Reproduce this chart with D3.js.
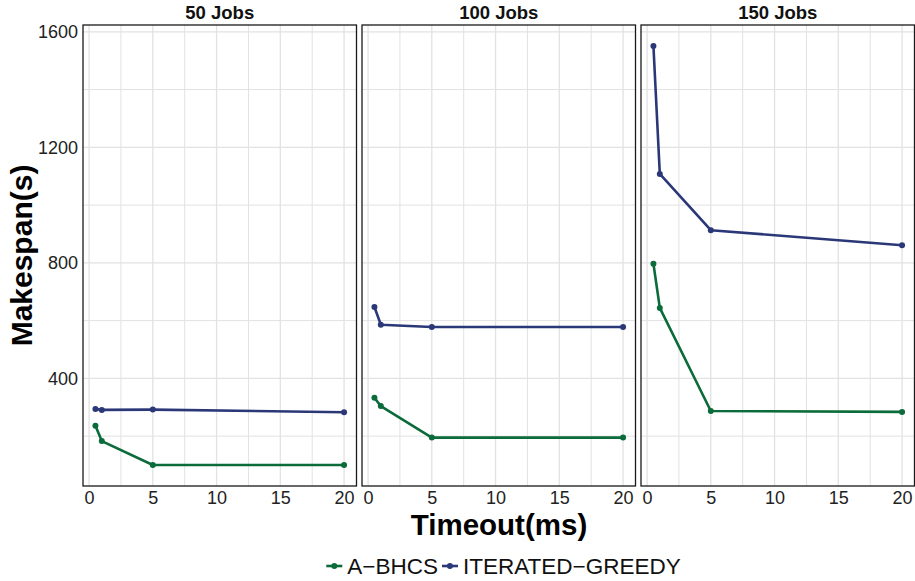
<!DOCTYPE html>
<html>
<head>
<meta charset="utf-8">
<script src="https://cdn.jsdelivr.net/npm/d3@7"></script>
<style>
  html, body { margin: 0; padding: 0; background: #fff; }
  svg { display: block; font-family: "Liberation Sans", Arial, sans-serif; }
</style>
</head>
<body>
<svg id="chart" width="915" height="581"></svg>
<script>
// Timeout settings (ms) shared by every panel
const timeouts = [0.5, 1, 5, 20];
const panelTitles = ["50 Jobs", "100 Jobs", "150 Jobs"];
const seriesNames = ["A\u2212BHCS", "ITERATED\u2212GREEDY"];
const seriesColors = ["#0b6b3a", "#2b3878"];

// Makespan (s) per panel, one array per algorithm
const abhcs50 = [236, 183, 100, 100];
const abhcs100 = [333, 304, 195, 195];
const abhcs150 = [797, 644, 287, 284];
const greedy50 = [294, 291, 292, 283];
const greedy100 = [647, 586, 578, 578];
const greedy150 = [1551, 1108, 913, 861];

const xMajor = [0, 5, 10, 15, 20];
const xMinor = [2.5, 7.5, 12.5, 17.5];
const yMajor = [400, 800, 1200, 1600];
const yMinor = [200, 600, 1000, 1400];

const panelData = [
  [abhcs50, greedy50],
  [abhcs100, greedy100],
  [abhcs150, greedy150]
];

const svg = d3.select("#chart");
const plotTop = 25, plotBottom = 486;
const left0 = 83, panelW = 273.5, gap = 5.5;

// ggplot-style 5% expansion of the data range
function expand(lo, hi) { const d = (hi - lo) * 0.05; return [lo - d, hi + d]; }
const allY = panelData.flat(2);
const y = d3.scaleLinear().domain(expand(d3.min(allY), d3.max(allY))).range([plotBottom, plotTop]);
const xDom = expand(d3.min(timeouts), d3.max(timeouts));

const gridColor = "#e2e2e2";
const tickFont = 18;

panelData.forEach((series, i) => {
  const x0 = left0 + i * (panelW + gap);
  const x = d3.scaleLinear().domain(xDom).range([x0, x0 + panelW]);
  const g = svg.append("g");

  // grid
  g.selectAll(".ymin").data(yMinor).join("line")
    .attr("x1", x0).attr("x2", x0 + panelW)
    .attr("y1", d => y(d)).attr("y2", d => y(d))
    .attr("stroke", gridColor).attr("stroke-width", 1);
  g.selectAll(".xmin").data(xMinor).join("line")
    .attr("y1", plotTop).attr("y2", plotBottom)
    .attr("x1", d => x(d)).attr("x2", d => x(d))
    .attr("stroke", gridColor).attr("stroke-width", 1);
  g.selectAll(".ymaj").data(yMajor).join("line")
    .attr("x1", x0).attr("x2", x0 + panelW)
    .attr("y1", d => y(d)).attr("y2", d => y(d))
    .attr("stroke", gridColor).attr("stroke-width", 1.3);
  g.selectAll(".xmaj").data(xMajor).join("line")
    .attr("y1", plotTop).attr("y2", plotBottom)
    .attr("x1", d => x(d)).attr("x2", d => x(d))
    .attr("stroke", gridColor).attr("stroke-width", 1.3);

  // series
  series.forEach((vals, s) => {
    const pts = timeouts.map((t, k) => [t, vals[k]]);
    g.append("path")
      .attr("d", d3.line().x(d => x(d[0])).y(d => y(d[1]))(pts))
      .attr("fill", "none").attr("stroke", seriesColors[s])
      .attr("stroke-width", 2.6).attr("stroke-linejoin", "round");
    g.selectAll(null).data(pts).join("circle")
      .attr("cx", d => x(d[0])).attr("cy", d => y(d[1])).attr("r", 3)
      .attr("fill", seriesColors[s]);
  });

  // border
  g.append("rect").attr("x", x0).attr("y", plotTop).attr("width", panelW).attr("height", plotBottom - plotTop)
    .attr("fill", "none").attr("stroke", "#1a1a1a").attr("stroke-width", 1.3);

  // strip title
  g.append("text").attr("x", x0 + panelW / 2).attr("y", 19)
    .attr("text-anchor", "middle").attr("font-weight", "bold").attr("font-size", 18.5)
    .attr("fill", "#111").text(panelTitles[i]);

  // x tick labels
  const xAxis = d3.axisBottom(x).tickValues(xMajor).tickSize(0).tickPadding(5);
  const ax = g.append("g").attr("transform", `translate(0,${plotBottom})`).call(xAxis);
  ax.select(".domain").remove();
  ax.selectAll("text").attr("font-size", tickFont).attr("fill", "#222")
    .attr("font-family", "Liberation Sans, Arial, sans-serif");

  if (i === 0) {
    const yAxis = d3.axisLeft(y).tickValues(yMajor).tickFormat(d3.format("d"))
      .tickSize(0).tickPadding(5);
    const ay = g.append("g").attr("transform", `translate(${x0},0)`).call(yAxis);
    ay.select(".domain").remove();
    ay.selectAll("text").attr("font-size", tickFont).attr("fill", "#222")
      .attr("font-family", "Liberation Sans, Arial, sans-serif");
  }
});

// axis titles
svg.append("text").attr("x", 499).attr("y", 535).attr("text-anchor", "middle")
  .attr("font-weight", "bold").attr("font-size", 29.5).attr("fill", "#000").text("Timeout(ms)");
svg.append("text").attr("transform", `translate(32,${(plotTop + plotBottom) / 2}) rotate(-90)`)
  .attr("text-anchor", "middle").attr("font-weight", "bold").attr("font-size", 30)
  .attr("fill", "#000").text("Makespan(s)");

// legend
const legend = svg.append("g");
let lx = 0;
seriesNames.forEach((name, s) => {
  const item = legend.append("g").attr("transform", `translate(${lx},0)`);
  item.append("line").attr("x1", 0).attr("x2", 16).attr("y1", 0).attr("y2", 0)
    .attr("stroke", seriesColors[s]).attr("stroke-width", 2.6);
  item.append("circle").attr("cx", 8).attr("cy", 0).attr("r", 3).attr("fill", seriesColors[s]);
  const t = item.append("text").attr("x", 21).attr("y", 8).attr("font-size", 22.5)
    .attr("fill", "#111").text(name);
  lx += 21 + t.node().getComputedTextLength() + 4;
});
const lw = lx - 4;
legend.attr("transform", `translate(${503.5 - lw / 2},566)`);
</script>
</body>
</html>
